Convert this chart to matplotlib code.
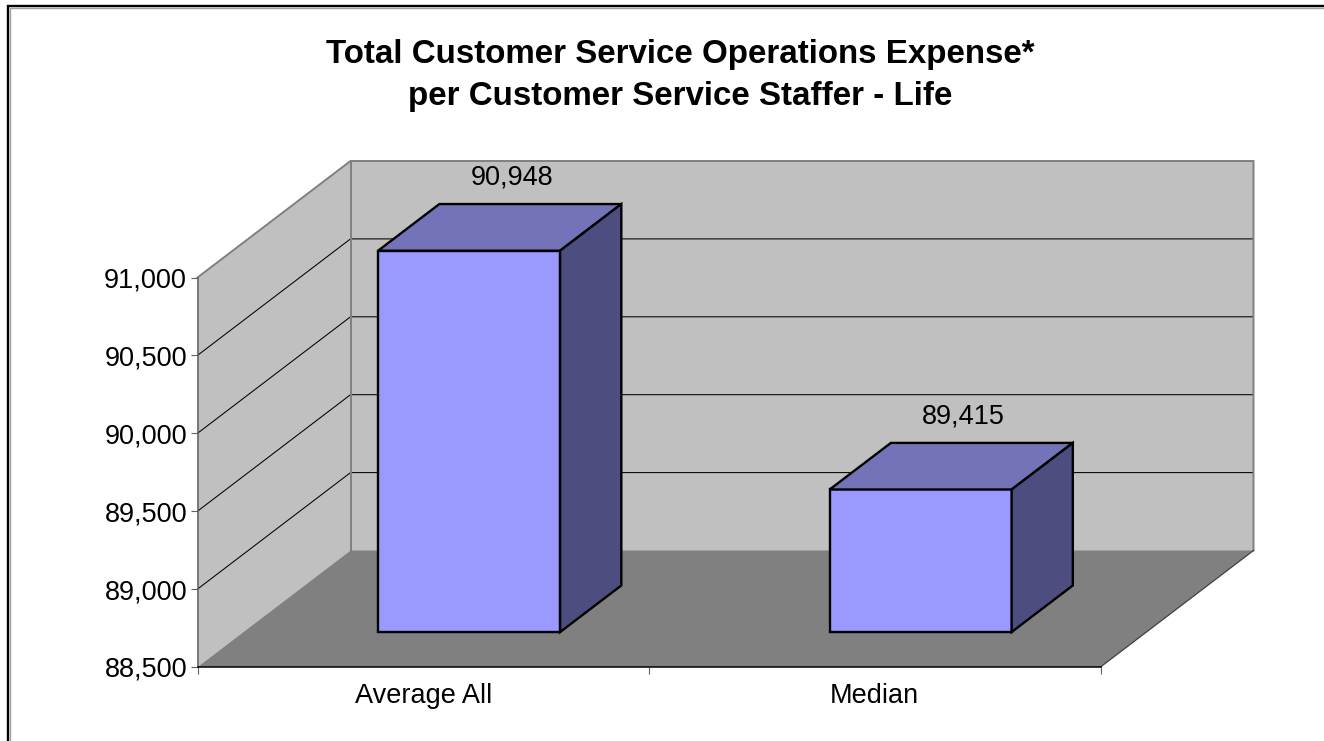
import matplotlib
matplotlib.use("Agg")
import matplotlib.pyplot as plt
from matplotlib.patches import Polygon

categories = ["Average All", "Median"]
values = [90948, 89415]
value_labels = ["90,948", "89,415"]
y_ticks = [88500, 89000, 89500, 90000, 90500, 91000]
y_tick_labels = ["88,500", "89,000", "89,500", "90,000", "90,500", "91,000"]
title_lines = ["Total Customer Service Operations Expense*", "per Customer Service Staffer - Life"]

W, H = 1324, 741
plt.rcParams["font.family"] = ["Liberation Sans", "DejaVu Sans"]
LABEL_SIZE = 19.5
TITLE_SIZE = 23.85

fig = plt.figure(figsize=(W / 100, H / 100), dpi=100, facecolor="white")

# Front plane of the oblique box, in figure pixels
LEFT, RIGHT, TOP, BOTTOM = 197.5, 1100.5, 277.5, 667.0
ax = fig.add_axes([LEFT / W, 1 - BOTTOM / H, (RIGHT - LEFT) / W, (BOTTOM - TOP) / H])
ax.set_xlim(0, len(categories))
ax.set_ylim(y_ticks[0], y_ticks[-1])
ax.patch.set_visible(False)

# Oblique depth: how far the back plane is shifted, in axis units
DEPTH_X = 153 / ((RIGHT - LEFT) / len(categories))
DEPTH_Y = 116.5 / ((BOTTOM - TOP) / (y_ticks[-1] - y_ticks[0]))


def proj(x, v, d):
    return (x + d * DEPTH_X, v + d * DEPTH_Y)


def face(points, **kw):
    ax.add_patch(Polygon([proj(*p) for p in points], closed=True, clip_on=False, **kw))


x0, x1 = 0, len(categories)
v0, v1 = y_ticks[0], y_ticks[-1]
WALL, FLOOR, EDGE = "#c0c0c0", "#808080", "#808080"

# Walls and floor
face([(x0, v0, 1), (x1, v0, 1), (x1, v1, 1), (x0, v1, 1)], fc=WALL, ec="none", zorder=1)
face([(x0, v0, 0), (x0, v0, 1), (x0, v1, 1), (x0, v1, 0)], fc=WALL, ec="none", zorder=1.1)
face([(x0, v0, 0), (x1, v0, 0), (x1, v0, 1), (x0, v0, 1)], fc=FLOOR, ec="none", zorder=1.2)

# Gridlines run along the side wall and across the back wall
for v in y_ticks[1:-1]:
    xs, ys = zip(proj(x0, v, 0), proj(x0, v, 1), proj(x1, v, 1))
    ax.plot(xs, ys, color="black", lw=0.75, clip_on=False, zorder=1.5)

# Wall outlines
ax.plot(*zip(proj(x0, v1, 0), proj(x0, v1, 1), proj(x1, v1, 1), proj(x1, v0, 1)),
        color=EDGE, lw=1.4, clip_on=False, zorder=1.6, solid_joinstyle="miter")
ax.plot(*zip(proj(x0, v0, 1), proj(x0, v1, 1)), color=EDGE, lw=1.4, clip_on=False, zorder=1.6)
ax.plot(*zip(proj(x1, v0, 0), proj(x1, v0, 1)), color="#404040", lw=0.9, clip_on=False, zorder=1.6)

# Bars with front, top and side faces
BAR_W, D_NEAR, D_FAR = 0.403, 0.30, 0.70
for i, (v, label) in enumerate(zip(values, value_labels)):
    a, b = i + 0.5 - BAR_W / 2, i + 0.5 + BAR_W / 2
    style = dict(ec="black", lw=1.7, joinstyle="miter", zorder=3)
    face([(a, v0, D_NEAR), (b, v0, D_NEAR), (b, v, D_NEAR), (a, v, D_NEAR)], fc="#9999ff", **style)
    face([(a, v, D_NEAR), (b, v, D_NEAR), (b, v, D_FAR), (a, v, D_FAR)], fc="#7373b9", **style)
    face([(b, v0, D_NEAR), (b, v0, D_FAR), (b, v, D_FAR), (b, v, D_NEAR)], fc="#4d4d7f", **style)
    lx, ly = proj(i + 0.5, v, D_FAR)
    ax.annotate(label, (lx, ly), xytext=(-13, 19), textcoords="offset points",
                ha="center", va="center", fontsize=LABEL_SIZE, color="black", zorder=4,
                annotation_clip=False)

# Axes: value ticks on the front-left edge, categories below
for side in ("top", "right"):
    ax.spines[side].set_visible(False)
ax.spines["left"].set_color("#606060")
ax.spines["left"].set_linewidth(1.1)
ax.spines["bottom"].set_color("black")
ax.spines["bottom"].set_linewidth(1.1)
for s in ax.spines.values():
    s.set_zorder(2)
ax.set_yticks(y_ticks, y_tick_labels, fontsize=LABEL_SIZE)
ax.set_xticks(range(len(categories) + 1))
ax.set_xticklabels([""] * (len(categories) + 1))
ax.set_xticks([i + 0.5 for i in range(len(categories))], categories, minor=True, fontsize=LABEL_SIZE)
ax.tick_params(axis="y", length=5, width=0.8, color="#606060", pad=2.5)
ax.tick_params(axis="x", which="major", length=5, width=0.8, color="#606060")
ax.tick_params(axis="x", which="minor", length=0, pad=11.5)

# Title
fig.text(680 / W, 1 - 63 / H, title_lines[0], ha="center", va="baseline",
         fontsize=TITLE_SIZE, fontweight="bold")
fig.text(680 / W, 1 - 105 / H, title_lines[1], ha="center", va="baseline",
         fontsize=TITLE_SIZE, fontweight="bold")

# Chart-area frame: top and left edges with a thin grey inner line
for offset, color, lw in ((1.8, "#a0a0a0", 1.0), (0, "black", 1.7)):
    fig.add_artist(plt.Line2D([(8 + offset) / W, (8 + offset) / W, 1],
                              [0, 1 - (6 + offset) / H, 1 - (6 + offset) / H],
                              color=color, lw=lw, solid_joinstyle="miter"))

fig.savefig("out.png", dpi=100, facecolor="white")
